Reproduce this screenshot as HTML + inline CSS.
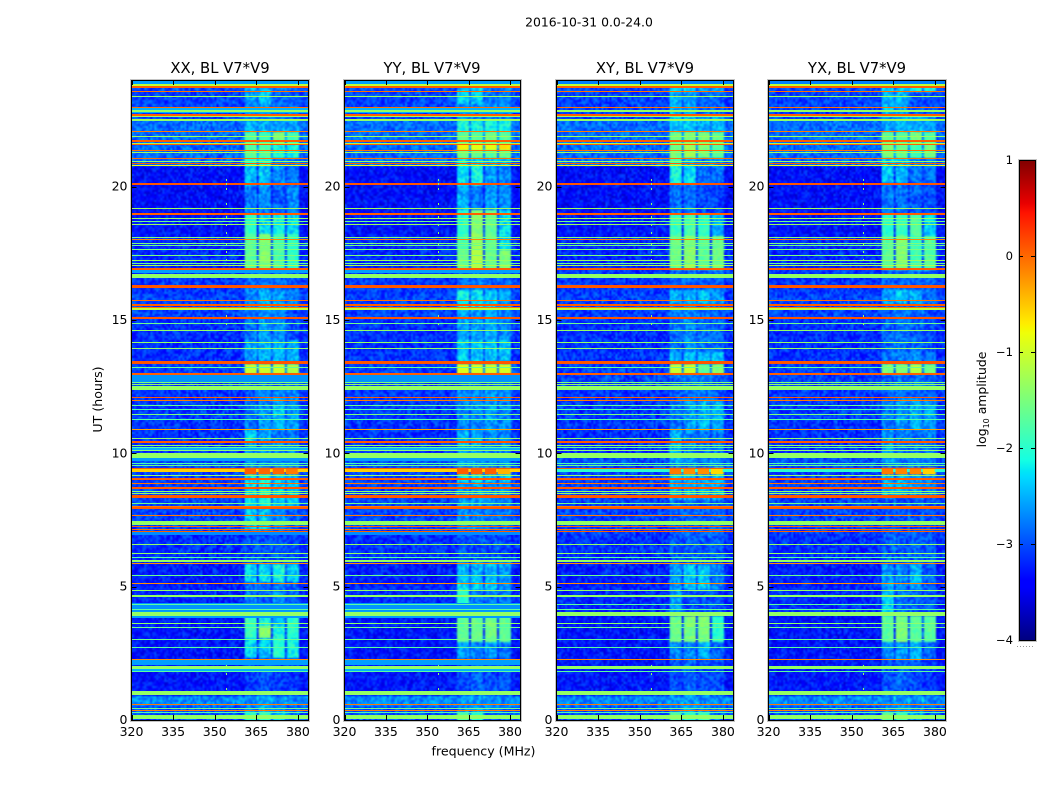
<!DOCTYPE html>
<html lang="en">
<head>
<meta charset="utf-8">
<title>2016-10-31 0.0-24.0 dynamic spectra</title>
<style>
html,body{margin:0;padding:0;background:#fff;}
#figure{position:relative;width:1050px;height:800px;overflow:hidden;background:#fff;font-family:"DejaVu Sans","Liberation Sans",sans-serif;}
canvas{position:absolute;display:block;}
svg{position:absolute;left:0;top:0;}
text{font-family:"DejaVu Sans","Liberation Sans",sans-serif;fill:#000;}
</style>
</head>
<body>
<div id="figure">
<svg id="overlay" width="1050" height="800" viewBox="0 0 1050 800">
  <defs>
    <linearGradient id="jetGradient" x1="0" y1="1" x2="0" y2="0"></linearGradient>
  </defs>
  <text x="589" y="26.5" font-size="12.4" text-anchor="middle">2016-10-31 0.0-24.0</text>
  <text x="220" y="73" font-size="14.8" text-anchor="middle">XX, BL V7*V9</text>
  <text x="432" y="73" font-size="14.8" text-anchor="middle">YY, BL V7*V9</text>
  <text x="645" y="73" font-size="14.8" text-anchor="middle">XY, BL V7*V9</text>
  <text x="857" y="73" font-size="14.8" text-anchor="middle">YX, BL V7*V9</text>
  <text x="483.5" y="755.5" font-size="12.6" text-anchor="middle">frequency (MHz)</text>
  <text transform="translate(102,399.5) rotate(-90)" font-size="12.6" text-anchor="middle">UT (hours)</text>
  <text transform="translate(986,399.5) rotate(-90)" font-size="12.4" text-anchor="middle">log<tspan font-size="8" dy="3">10</tspan><tspan dy="-3"> amplitude</tspan></text>
  <g id="colorbar"></g>
</svg>
</div>
<script>
// ---- axis values ----
const freqTicks = [320, 335, 350, 365, 380];
const utTicks = [0, 5, 10, 15, 20];
const colorTicks = [1, 0, -1, -2, -3, -4];
const panelNames = ['xx', 'yy', 'xy', 'yx'];

// Broadband interference seen in every panel: [UT hour, width in hours, log10 amplitude]
const rfiBands = [
  [23.81,.07,-1.1],[23.75,.07,.05],[23.56,.03,-.05],[23.39,.03,-1.3],[22.975,.03,-.05],[22.85,.06,-1.35],
  [22.70,.07,.05],[22.625,.04,-1.3],[22.54,.03,-1.2],[22.49,.025,-1.4],[22.06,.025,-.1],[21.875,.04,-1.3],
  [21.725,.07,.05],[21.64,.03,-1.2],[21.59,.03,.05],[21.375,.03,-.05],[21.275,.03,-1.3],[21.06,.03,-.05],
  [20.93,.03,-1.35],[20.85,.05,.05],[20.81,.03,-.8],[20.09,.07,.1],[19.19,.03,-1.3],[18.96,.07,.05],
  [18.81,.03,-1.35],[18.71,.03,-1.6],[18.60,.03,-1.3],[18.10,.03,-1.5],[18.02,.03,-.15],[17.875,.03,-1.5],
  [17.79,.03,-1.6],[17.65,.03,-1.5],[17.43,.03,-1.5],[17.24,.03,-1.3],[17.13,.03,-1.6],[17.05,.03,-1.2],
  [16.90,.08,.08],[16.65,.15,-1.35],[16.26,.12,.1],[15.725,.03,-.05],[15.56,.06,.05],[15.475,.035,-.05],
  [15.41,.06,-1.1],[15.06,.08,.1],[14.875,.03,-1.6],[14.61,.03,-1.35],[14.16,.03,-1.35],[13.925,.03,-1.35],
  [13.41,.12,.1],[13.225,.03,-1.65],[12.96,.07,.05],[12.675,.03,-1.5],[12.6,.03,-1.35],[12.525,.03,-1.35],
  [12.41,.12,-1.35],[12.09,.03,.05],[12.0,.03,-.1],[11.81,.03,-1.65],[11.66,.03,-1.75],[11.475,.03,-1.5],
  [11.275,.03,-1.75],[10.89,.03,-.3],[10.56,.03,-1.35],[10.41,.08,.08],[10.30,.04,-1.35],[10.225,.03,-1.75],
  [10.10,.03,-1.4],[9.925,.17,-1.35],[9.625,.03,-1.8],[9.54,.03,-1.6],[9.45,.03,.05],[9.19,.03,-1.35],
  [9.025,.07,.05],[8.875,.03,-.05],[8.71,.08,.08],[8.59,.03,-1.35],[8.5,.03,-1.35],[8.4,.1,.08],
  [8.125,.03,-1.6],[8.025,.03,-.1],[7.94,.08,.08],[7.69,.03,-.1],[7.375,.16,-1.35],[7.25,.05,.05],
  [7.15,.05,-.05],[7.06,.05,.05],[6.59,.03,-1.35],[6.24,.05,-1.35],[6.1,.03,-1.75],[5.96,.09,-1.35],
  [5.875,.03,-.2],[5.425,.03,-1.6],[5.125,.03,-.2],[4.875,.03,-1.35],[4.65,.06,-1.35],[4.35,.03,-1.7],
  [4.15,.03,-1.7],[3.975,.15,-1.35],[3.625,.03,-1.4],[3.475,.03,-1.6],[3.025,.03,-1.6],[2.725,.03,-1.7],
  [2.275,.03,-.2],[1.96,.12,-1.35],[1.825,.03,-1.7],[1.01,.16,-1.35],[.585,.03,-.1],[.44,.03,-1.6],
  [.35,.03,-.1],[.275,.03,-1.8],[.11,.16,-1.35]
];

// Broader, weaker bands present only in the parallel hands (XX, YY)
const parallelBands = [
  [23.93,.14,-2.6],[22.85,.2,-2.5],[16.8,.13,-2.6],[12.8,.26,-2.65],[10.2,.1,-2.5],[9.78,.15,-2.6],
  [9.33,.13,-.55],[7,.1,-2.7],[4.22,.3,-2.65],[3.95,.25,-2.6],[2.15,.2,-2.6],[1.85,.1,-2.5]
];

// The same time range in the cross hands (XY, YX) is much weaker
const crossBands = [
  [23.93,.14,-2.75],[9.33,.13,-2]
];

// Background level versus time: [start UT, end UT, log10 amplitude]
const backgroundLevels = [
  [24,23.6,-3],[23.6,22.5,-3.05],[22.5,20.8,-2.85],[20.8,19,-3.35],[19,18.1,-3.3],[18.1,16.95,-3.2],
  [16.95,16,-3.1],[16,15,-3.05],[15,13.4,-3.15],[13.4,12.4,-3.05],[12.4,11,-3.1],[11,10,-3.15],
  [10,9.3,-3],[9.3,7,-3.05],[7,6,-3.15],[6,5,-3.25],[5,4,-3.2],[4,2.3,-3.3],[2.3,.9,-3.3],
  [.9,.5,-2.7],[.5,0,-3]
];

// Observing sub-bands in MHz
const subbandStart = [360.8, 365.8, 370.9, 375.6];
const subbandStop = [364.9, 369.9, 375, 379.9];

// Signal in each sub-band: [start UT, end UT, band 1, band 2, band 3, band 4]
const activityXX = [
  [24,23.6,-2.3,-2.4,-2.6,-2.6],[23.6,23.1,-2.5,-2.3,-2.8,-2.8],[23.1,22.5,-2.6,-2.6,-2.7,-2.7],
  [22.5,22.05,-2.4,-2.4,-2.5,-2.5],[22.05,21.6,-1.75,-1.9,-1.55,-1.85],[21.6,21.05,-1.7,-1.75,-2.1,-2.1],
  [21.05,20.8,-2,-2.1,-2.7,-2.7],[20.8,20.05,-2.35,-2.3,-2.6,-2.7],[20.05,19,-2.65,-2.6,-2.8,-2.6],
  [19,18.2,-1.95,-2.2,-2.1,-2.2],[18.2,16.9,-1.7,-1.45,-1.8,-1.95],[16.9,16.1,-2.75,-2.7,-2.75,-2.8],
  [16.1,15.4,-2.6,-2.4,-2.5,-2.6],[15.4,14.25,-2.7,-2.5,-2.6,-2.9],[14.25,13.4,-2.5,-2.4,-2.4,-2.4],
  [13.32,13,-1.05,-1,-1,-1.2],[13,12.4,-2.8,-2.8,-2.8,-2.8],[12.4,11.8,-2.8,-2.6,-2.5,-2.6],
  [11.8,10.9,-2.7,-2.5,-2.3,-2.5],[10.9,10.4,-2.2,-2.5,-2.7,-2.7],[10.4,9.45,-2.5,-2.6,-2.6,-2.6],
  [9.45,9.22,.05,0,0,-.1],[9.2,7.95,-2.2,-2.1,-2.3,-2.3],[7.95,7.1,-2.3,-2.3,-2.6,-2.8],
  [7.1,5.85,-2.9,-2.9,-2.9,-2.9],[5.85,5.2,-2.2,-2.2,-2.1,-2.3],[5.2,3.9,-2.7,-2.8,-2.6,-2.8],
  [3.9,3.55,-1.9,-2.1,-2.3,-2],[3.55,3.1,-1.9,-1.4,-2.1,-2],[3.1,2.3,-2.2,-2.3,-2,-2.1],
  [2.3,.9,-3,-2.9,-3,-3],[.9,.3,-2.7,-2.4,-2.6,-2.8],[.3,0,-2,-1.9,-2.4,-2.7]
];
const activityYY = [
  [24,23.6,-2.5,-2.3,-2.6,-2.6],[23.6,23.1,-2.2,-2.3,-2.7,-2.7],[23.1,22.5,-2.6,-2.6,-2.6,-2.6],
  [22.5,22.05,-2.1,-2.1,-2.1,-2.1],[22.05,21.6,-1.7,-1.75,-1.55,-1.75],[21.6,21.4,-.75,-.85,-.85,-.65],
  [21.4,21.05,-1.55,-1.6,-1.7,-1.6],[21.05,20.8,-2.2,-2.2,-2.3,-2.3],[20.8,20.05,-2.2,-2.1,-2.5,-2.6],
  [20.05,19.1,-2.4,-2.7,-2.5,-2.6],[19.1,18.2,-2,-1.45,-1.65,-2.2],[18.2,17.6,-1.8,-1.3,-1.65,-2.2],
  [17.6,16.9,-1.65,-1.15,-1.6,-1.5],[16.9,16.1,-2.75,-2.7,-2.75,-2.8],[16.1,15.4,-2.1,-2.2,-2.3,-2.5],
  [15.4,14.25,-2.5,-2.5,-2.4,-2.6],[14.25,13.4,-2.3,-2.3,-2.3,-2.3],[13.32,13,-.9,-.95,-1,-.95],
  [13,12.4,-2.8,-2.8,-2.8,-2.8],[12.4,10.9,-2.6,-2.6,-2.5,-2.6],[10.9,10.3,-2.35,-2.4,-2.6,-2.6],
  [10.3,9.45,-2.5,-2.5,-2.6,-2.6],[9.45,9.22,.05,.05,.05,-.4],[9.2,8.9,-2.2,-2.2,-2.3,-2.3],
  [8.9,7.95,-2.5,-2.5,-2.6,-2.6],[7.95,7.1,-2.6,-2.6,-2.7,-2.7],[7.1,5.9,-2.9,-2.9,-2.9,-2.9],
  [5.9,5.3,-2.4,-2.4,-2.4,-2.5],[5.3,4.9,-2.2,-2.3,-2.3,-2.6],[4.9,4,-2,-2.7,-2.7,-2.7],
  [3.9,2.95,-1.65,-1.6,-1.55,-1.7],[2.95,2.3,-2.5,-2.6,-2.5,-2.7],[2.3,.9,-2.9,-2.8,-2.9,-2.9],
  [.9,.3,-2.7,-2.5,-2.6,-2.8],[.3,0,-1.8,-2,-2.8,-2.8]
];
const activityXY = [
  [24,23.55,-2.2,-2.2,-2.4,-2.4],[23.55,22.75,-2.4,-2.5,-2.8,-2.8],[22.75,22.05,-2.3,-2.3,-2.4,-2.4],
  [22.05,21.6,-1.6,-1.5,-1.5,-1.7],[21.6,21.05,-1.55,-1.3,-1.5,-1.75],[21.05,20.8,-1.8,-2.4,-2.6,-2.6],
  [20.8,20.1,-2.1,-2.2,-2.7,-2.7],[20.1,19,-2.7,-2.7,-2.9,-2.9],[19,18.15,-1.9,-1.8,-2,-2.4],
  [18.15,16.9,-1.6,-1.4,-1.7,-1.6],[16.6,16.1,-2.8,-2.8,-2.8,-2.8],[16.1,15.6,-2.4,-2.4,-2.3,-2.5],
  [15.6,13.8,-2.7,-2.6,-2.7,-2.8],[13.8,13.4,-2.4,-2.3,-2.3,-2.3],[13.35,13,-1.05,-1,-1.65,-1.4],
  [12.8,12,-2.8,-2.7,-2.7,-2.8],[12,10.9,-2.7,-2.5,-2.4,-2.4],[10.9,9.6,-2.4,-2.6,-2.7,-2.7],
  [9.45,9.22,-.1,-.2,-.2,-.6],[9.2,9,-2.2,-2.3,-2.4,-2.3],[9,8.25,-2.4,-2.4,-2.4,-2.4],
  [8.25,7,-2.8,-2.8,-2.8,-2.8],[5.875,4.875,-2.5,-2.3,-2.3,-2.6],[4.875,4,-2.5,-2.9,-2.9,-2.9],
  [3.875,2.94,-1.6,-1.5,-1.5,-2],[2.94,2.25,-2.6,-2.6,-2.4,-2.8],[2.25,1,-2.9,-2.8,-2.9,-2.9],
  [1,.3,-2.7,-2.5,-2.6,-2.8],[.3,0,-1.7,-2,-1.9,-2.7]
];
const activityYX = [
  [24,23.55,-2.3,-2.3,-2.1,-2.1],[23.55,22.75,-2.4,-2.4,-2.9,-2.9],[22.75,22.05,-2.5,-2.4,-2.4,-2.5],
  [22.05,21.6,-1.65,-1.7,-1.5,-1.75],[21.6,21.05,-1.5,-1.6,-1.9,-1.55],[21.05,20.8,-2.3,-2.3,-2.7,-2.7],
  [20.8,20.1,-2.3,-2.4,-2.7,-2.7],[20.1,19,-2.7,-2.7,-2.8,-2.9],[19,18.15,-2,-1.9,-1.75,-2.25],
  [18.15,16.9,-1.7,-1.45,-1.85,-1.75],[16.6,16.1,-2.8,-2.8,-2.8,-2.8],[16.1,15.6,-2.5,-2.3,-2.4,-2.7],
  [15.6,13.8,-2.8,-2.7,-2.8,-2.9],[13.8,13.4,-2.7,-2.6,-2.6,-2.7],[13.35,13,-1.5,-1.45,-1.15,-1.6],
  [12.8,12,-2.8,-2.7,-2.7,-2.8],[12,10.9,-2.7,-2.5,-2.4,-2.5],[10.9,9.6,-2.5,-2.7,-2.7,-2.7],
  [9.45,9.22,-.1,-.15,-.15,-.55],[9.2,8.3,-2.4,-2.4,-2.5,-2.6],[8.3,7,-2.9,-2.9,-2.9,-2.9],
  [5.875,4.875,-2.5,-2.6,-2.4,-2.8],[4.875,3.9,-2.3,-2.7,-2.8,-2.9],[3.875,2.94,-1.7,-1.5,-1.7,-1.7],
  [2.94,2.25,-2.6,-2.5,-2.4,-2.8],[2.25,1,-2.9,-2.8,-2.9,-3],[1,.3,-2.7,-2.6,-2.7,-2.9],
  [.3,0,-1.7,-1.9,-2.5,-2.8]
];
const panelActivity = [activityXX, activityYY, activityXY, activityYX];

// Narrow-band spur near 354 MHz: UT hours where the channel is lit
const spurFrequency = 353.9;
const spurTimes = [20.3,20.15,19.95,19.4,18.9,18.6,18.3,17.9,17.6,17.3,15.2,14.9,2.05,1.75,1.2];
const spurLevel = -1.4;

// Texture lookup: per-cell scatter about the local level, in decades
const speckle = [
 -.6,.4,-.9,.2,.8,-.3,.1,-.7,.5,-.1,.9,-.5,.3,-.8,.6,-.2,.0,.7,-.4,.2,-1,.5,-.6,.1,.8,-.3,.4,-.7,.0,.6,
 -.5,.3,-.9,.7,-.1,.2,-.4,1,-.8,.1,.5,-.6,-.2,.4,-.3,.9,-.7,.0,.3,-.5,.6,-.9,.2,.7,-.1,-.4,.5,-.8,.1,.3,
 -.6,.8,-.2,.4,-.7,.0,.6,-.3,.2,-.9,.5,-.1,.7,-.5,.1,.3,-.8,.9,-.4,.2,-.6,.4,-.1,.6,-.7,.0,.3,-.3,.8,-.5,
 .1,-.9,.5,-.2,.4,-.6,.7
];

// ---- axis functions ----
const panelLeft = [131.5, 344.5, 556.5, 768.5];
const panelWidths = [177, 176, 177, 177];
const plotTop = 80;
const plotHeight = 640;
const freqMin = 320, freqMax = 383.8, utMax = 24;
const cbLeft = 1019, cbWidth = 16, cbTop = 160, cbHeight = 480;
const ampMin = -4, ampMax = 1;

function xScale(panel, mhz) { return panelLeft[panel] + (mhz - freqMin) / (freqMax - freqMin) * panelWidths[panel]; }
function yScale(ut) { return plotTop + (utMax - ut) / utMax * plotHeight; }
function cbScale(amp) { return cbTop + (ampMax - amp) / (ampMax - ampMin) * cbHeight; }

function interp(t, xs, ys) {
  for (let i = 1; i < xs.length; i++) {
    if (t <= xs[i]) return ys[i - 1] + (ys[i] - ys[i - 1]) * (t - xs[i - 1]) / (xs[i] - xs[i - 1]);
  }
  return ys[ys.length - 1];
}
function jet(amp) {
  const t = Math.max(0, Math.min(1, (amp - ampMin) / (ampMax - ampMin)));
  const r = interp(t, [0, .35, .66, .89, 1], [0, 0, 1, 1, .5]);
  const g = interp(t, [0, .125, .375, .64, .91, 1], [0, 0, 1, 1, 0, 0]);
  const b = interp(t, [0, .11, .34, .65, 1], [.5, 1, 1, 0, 0]);
  return [Math.round(r * 255), Math.round(g * 255), Math.round(b * 255)];
}
function jetCss(amp) { const c = jet(amp); return 'rgb(' + c[0] + ',' + c[1] + ',' + c[2] + ')'; }

const svgNS = 'http://www.w3.org/2000/svg';
const overlay = document.getElementById('overlay');
const figure = document.getElementById('figure');
function mk(tag, attrs, parent) {
  const e = document.createElementNS(svgNS, tag);
  for (const k in attrs) e.setAttribute(k, attrs[k]);
  parent.appendChild(e);
  return e;
}
function rowLookup(rows, ut) {
  for (const row of rows) { if (ut <= row[0] && ut > row[1]) return row; }
  return null;
}

// ---- heatmap cells ----
const nCols = 88, nRows = 320;
function drawPanelCells(p) {
  const small = document.createElement('canvas');
  small.width = nCols; small.height = nRows;
  const sctx = small.getContext('2d');
  const img = sctx.createImageData(nCols, nRows);
  const activity = panelActivity[p];
  for (let r = 0; r < nRows; r++) {
    const ut = utMax - (r + .5) * utMax / nRows;
    const bg = rowLookup(backgroundLevels, ut);
    const act = rowLookup(activity, ut);
    const base = bg ? bg[2] : -3.1;
    for (let c = 0; c < nCols; c++) {
      const f = freqMin + (c + .5) * (freqMax - freqMin) / nCols;
      const h = (c * c * 7 + r * r * 13 + c * r * 3 + c * 5 + r * 11 + p * 17) % speckle.length;
      let level = base + speckle[h] * .36;
      let inBand = false;
      if (act) {
        for (let s = 0; s < 4; s++) {
          if (f >= subbandStart[s] && f <= subbandStop[s]) {
            const sig = act[s + 2] < -2.1 ? act[s + 2] - .1 : act[s + 2];
            level = Math.max(level, sig + speckle[h] * (sig > -1.2 ? .08 : sig > -2.1 ? .2 : .34));
            inBand = true;
          }
        }
      }
      if (!inBand && f > subbandStart[0] && f < subbandStop[3]) level += .22;
      const px = jet(level);
      const i = (r * nCols + c) * 4;
      img.data[i] = px[0]; img.data[i + 1] = px[1]; img.data[i + 2] = px[2]; img.data[i + 3] = 255;
    }
  }
  sctx.putImageData(img, 0, 0);
  const cv = document.createElement('canvas');
  
  
  cv.width = panelWidths[p]; cv.height = plotHeight;
  cv.style.left = panelLeft[p] + 'px';
  cv.style.top = plotTop + 'px';
  const ctx = cv.getContext('2d');
  ctx.imageSmoothingEnabled = true;
  ctx.drawImage(small, 0, 0, panelWidths[p], plotHeight);
  figure.insertBefore(cv, overlay);
}

function drawBand(group, p, band, name) {
  const y0 = Math.round(yScale(band[0] + band[1] / 2));
  const h = Math.max(1, Math.round(band[1] / utMax * plotHeight));
  const rect = mk('rect', {x: xScale(p, freqMin), y: y0, width: panelWidths[p], height: h, fill: jetCss(band[2]), 'shape-rendering': 'crispEdges'}, group);
  
  
}

function drawPanel(p) {
  drawPanelCells(p);
  const g = mk('g', {}, overlay);
  
  

  const extra = p < 2 ? parallelBands : crossBands;
  for (const band of extra) drawBand(g, p, band, 'weak-band');
  // re-draw the strong sub-band blocks of the 9.3 h flare above its broadband row
  const acts = panelActivity[p];
  for (const row of acts) {
    if (row[2] > -.7 && row[0] < 10) {
      for (let s = 0; s < 4; s++) {
        const x0 = xScale(p, subbandStart[s]);
        const blk = mk('rect', {x: x0, y: yScale(row[0]), width: xScale(p, subbandStop[s]) - x0, height: yScale(row[1]) - yScale(row[0]), fill: jetCss(row[s + 2])}, g);
        
        
      }
    }
  }
  for (const band of rfiBands) drawBand(g, p, band, 'rfi-band');
  for (const ut of spurTimes) {
    const dot = mk('rect', {x: Math.round(xScale(p, spurFrequency)), y: Math.round(yScale(ut)), width: 1, height: 2, fill: jetCss(spurLevel), 'shape-rendering': 'crispEdges'}, g);
    
    
  }

  const frame = mk('rect', {x: panelLeft[p], y: plotTop + .5, width: panelWidths[p], height: plotHeight, fill: 'none', stroke: '#000', 'stroke-width': 1}, g);
  
  
  const halo = mk('rect', {x: panelLeft[p] - 1, y: plotTop - .5, width: panelWidths[p] + 2, height: plotHeight + 2, fill: 'none', stroke: '#c4c4c4', 'stroke-width': 1}, g);
  
  

  for (const f of freqTicks) {
    const x = Math.round(xScale(p, f)) + .5;
    const t1 = mk('line', {x1: x, x2: x, y1: plotTop, y2: plotTop + 5, stroke: '#000'}, g);
    
    
    const t2 = mk('line', {x1: x, x2: x, y1: plotTop + plotHeight - 5, y2: plotTop + plotHeight, stroke: '#000'}, g);
    
    
    const lab = mk('text', {x: xScale(p, f), y: 736, 'font-size': 12.5, 'text-anchor': 'middle'}, g);
    lab.textContent = String(f);
    
    
  }
  for (const u of utTicks) {
    const y = Math.round(yScale(u)) + .5;
    const t1 = mk('line', {x1: panelLeft[p], x2: panelLeft[p] + 5, y1: y, y2: y, stroke: '#000'}, g);
    
    
    const t2 = mk('line', {x1: panelLeft[p] + panelWidths[p] - 5, x2: panelLeft[p] + panelWidths[p], y1: y, y2: y, stroke: '#000'}, g);
    
    
    const lab = mk('text', {x: panelLeft[p] - 4, y: yScale(u) + 4, 'font-size': 12.5, 'text-anchor': 'end'}, g);
    lab.textContent = String(u);
    
    
  }
}

function drawColorbar() {
  const g = document.getElementById('colorbar');
  const grad = document.getElementById('jetGradient');
  const stops = [0, .11, .125, .34, .35, .375, .5, .64, .65, .66, .89, .91, 1];
  for (const t of stops) {
    const st = mk('stop', {offset: t, 'stop-color': jetCss(ampMin + t * (ampMax - ampMin))}, grad);
  }
  const bar = mk('rect', {x: cbLeft, y: cbTop, width: cbWidth, height: cbHeight, fill: 'url(#jetGradient)'}, g);
  
  
  const fr = mk('rect', {x: cbLeft + .5, y: cbTop + .5, width: cbWidth, height: cbHeight, fill: 'none', stroke: '#000'}, g);
  
  
  const hl = mk('rect', {x: cbLeft - .5, y: cbTop - .5, width: cbWidth + 2, height: cbHeight + 2, fill: 'none', stroke: '#c4c4c4'}, g);
  
  
  for (const a of colorTicks) {
    const y = Math.round(cbScale(a)) + .5;
    const t1 = mk('line', {x1: cbLeft, x2: cbLeft + 4, y1: y, y2: y, stroke: '#000'}, g);
    
    
    const t2 = mk('line', {x1: cbLeft + cbWidth - 4, x2: cbLeft + cbWidth, y1: y, y2: y, stroke: '#000'}, g);
    
    
    const lab = mk('text', {x: 1013, y: cbScale(a) + 4, 'font-size': 11.6, 'text-anchor': 'end'}, g);
    lab.textContent = (a < 0 ? '\u2212' : '') + Math.abs(a);
    
    
  }
  const dots = mk('line', {x1: 1017, x2: 1035, y1: 646.5, y2: 646.5, stroke: '#999', 'stroke-dasharray': '1 2'}, g);
  
  
}

for (let p = 0; p < panelNames.length; p++) drawPanel(p);
drawColorbar();
</script>
</body>
</html>
